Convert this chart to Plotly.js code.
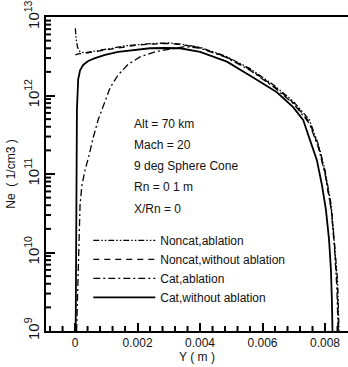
<!DOCTYPE html>
<html><head><meta charset="utf-8">
<script src="https://cdn.plot.ly/plotly-3.0.1.min.js"></script>
<style>html,body{margin:0;padding:0;background:#fff;overflow:hidden}</style>
</head><body>
<div id="chart" style="width:348px;height:367px"></div>
<script>
// Noncat, ablation
const ncaX = [0.00001,0.00003,0.00008,0.00016,0.0003,0.0005,0.0008,0.0012,0.0016,0.002,0.0025,0.003,0.0034,0.004,0.0048,0.0056,0.0064,0.007,0.0075,0.0078,0.008,0.0082,0.0083,0.0084,0.00845];
const ncaY = [7.2e12,5.4e12,4.1e12,3.6e12,3.5e12,3.6e12,3.8e12,4.0e12,4.3e12,4.47e12,4.6e12,4.67e12,4.5e12,4.1e12,3.2e12,2.2e12,1.32e12,8.3e11,4.9e11,2.3e11,1.12e11,4.0e10,1.45e10,4.5e9,1e9];
// Noncat, without ablation
const ncwX = [0.00001,0.0001,0.0003,0.0005,0.0008,0.0012,0.0016,0.002,0.0025,0.003,0.0034,0.004,0.0048,0.0056,0.0064,0.007,0.0075,0.0078,0.008,0.0082,0.0083,0.0084,0.00843];
const ncwY = [3.3e12,3.4e12,3.45e12,3.55e12,3.75e12,3.95e12,4.2e12,4.4e12,4.52e12,4.6e12,4.45e12,4.05e12,3.15e12,2.15e12,1.28e12,8.0e11,4.6e11,2.2e11,1.05e11,3.6e10,1.3e10,3.5e9,1e9];
// Cat, ablation
const caX = [0.00005,0.00008,0.00011,0.00016,0.00022,0.00032,0.00045,0.00058,0.00074,0.00093,0.00112,0.00138,0.0017,0.00208,0.00256,0.00304,0.00352,0.004,0.0048,0.0056,0.0064,0.007,0.0075,0.0078,0.008,0.0082,0.0083,0.00838,0.00842];
const caY = [1e9,3.3e9,1.07e10,4.1e10,7.2e10,1.12e11,1.74e11,2.9e11,4.9e11,8.0e11,1.25e12,1.83e12,2.5e12,3.1e12,3.6e12,3.9e12,4.2e12,4.0e12,3.1e12,2.1e12,1.25e12,7.8e11,4.4e11,2.1e11,1.0e11,3.5e10,1.2e10,3.5e9,1e9];
// Cat, without ablation
const cwX = [0.00002,0.00003,0.00005,0.00006,0.0001,0.00016,0.00026,0.00042,0.00064,0.00096,0.00138,0.00186,0.0024,0.00288,0.00336,0.004,0.00486,0.0057,0.00646,0.00698,0.0073,0.00752,0.00774,0.0079,0.00803,0.00813,0.00819,0.00822,0.00824];
const cwY = [1e9,1.1e10,1.1e11,6.6e11,1.6e12,2.1e12,2.45e12,2.75e12,3.0e12,3.3e12,3.6e12,3.8e12,4.0e12,4.03e12,4.0e12,3.6e12,2.7e12,1.7e12,1.1e12,7.1e11,4.9e11,2.7e11,1.5e11,7.3e10,3.5e10,1.45e10,6e9,2.5e9,1e9];

const names = ["Noncat,ablation","Noncat,without ablation","Cat,ablation","Cat,without ablation"];
const xTickVals = [0,0.002,0.004,0.006,0.008];
const xTickText = ["0","0.002","0.004","0.006","0.008"];
const notes = ["Alt = 70 km","Mach = 20","9 deg Sphere Cone","Rn = 0 1 m","X/Rn = 0"];

// minor tick-mark positions (axis decoration only)
const xMinor = [];
for (let k = -2; k <= 21; k++) { if (k % 5 !== 0) xMinor.push(k * 0.0004); }
const yMinor = [];
for (let e = 9; e < 13; e++) for (let m = 2; m <= 9; m++) yMinor.push(m * Math.pow(10, e));

const F = "Liberation Sans, Arial, sans-serif";
const C = "#111";
const XR = [-0.00093,0.008736];
const PW = 302, PH = 314; // plot area size in px
const shapes = [];
xMinor.forEach(v => shapes.push({type:"line",layer:"above",xref:"x",yref:"paper",x0:v,x1:v,y0:0,y1:5/PH,line:{color:"#000",width:2}}));
yMinor.forEach(v => shapes.push({type:"line",layer:"above",xref:"paper",yref:"y",x0:0,x1:5/PW,y0:v,y1:v,line:{color:"#000",width:2}}));

const traces = [
  {x:ncaX,y:ncaY,name:names[0],mode:"lines",line:{color:"#000",width:1.3,dash:"6px,2px,1.5px,2px,1.5px,2px"}},
  {x:ncwX,y:ncwY,name:names[1],mode:"lines",line:{color:"#000",width:1.3,dash:"6px,5px"}},
  {x:caX,y:caY,name:names[2],mode:"lines",line:{color:"#000",width:1.3,dash:"7px,3px,2px,3px"}},
  {x:cwX,y:cwY,name:names[3],mode:"lines",line:{color:"#000",width:1.8,dash:"solid"}}
];
const notePos = [0.659,0.592,0.525,0.459,0.389];
const annotations = notes.map((t,i)=>({text:t,xref:"paper",yref:"paper",x:0.285,y:notePos[i],xanchor:"left",yanchor:"middle",showarrow:false,font:{family:F,size:12,color:C}}));

const layout = {
  width:348,height:367,
  margin:{l:46,r:0,t:17,b:36},
  paper_bgcolor:"#fff",plot_bgcolor:"#fff",
  showlegend:true,
  legend:{x:0.14,y:0.335,xanchor:"left",yanchor:"top",bgcolor:"rgba(0,0,0,0)",itemwidth:62,font:{family:F,size:12,color:C},tracegroupgap:0},
  font:{family:F,size:12,color:C},
  xaxis:{range:XR,showgrid:false,zeroline:false,showline:true,linecolor:"#000",linewidth:2,mirror:true,
    tickmode:"array",tickvals:xTickVals,ticktext:xTickText,ticks:"inside",ticklen:8,tickwidth:2,tickcolor:"#000",
    tickfont:{family:F,size:12,color:C},
    title:{text:"Y ( m )",font:{family:F,size:12,color:C},standoff:2}},
  yaxis:{type:"log",range:[9,13],showgrid:false,zeroline:false,showline:true,linecolor:"#000",linewidth:2,mirror:false,
    dtick:1,exponentformat:"power",ticks:"inside",ticklen:9,tickwidth:2,tickcolor:"#000",tickangle:-90,
    tickfont:{family:F,size:12,color:C},
    title:{text:"Ne  ( 1/cm3 )",font:{family:F,size:12,color:C},standoff:4}},
  shapes:shapes,
  annotations:annotations
};
Plotly.newPlot("chart",traces,layout,{staticPlot:true,displayModeBar:false});
</script>
</body></html>
